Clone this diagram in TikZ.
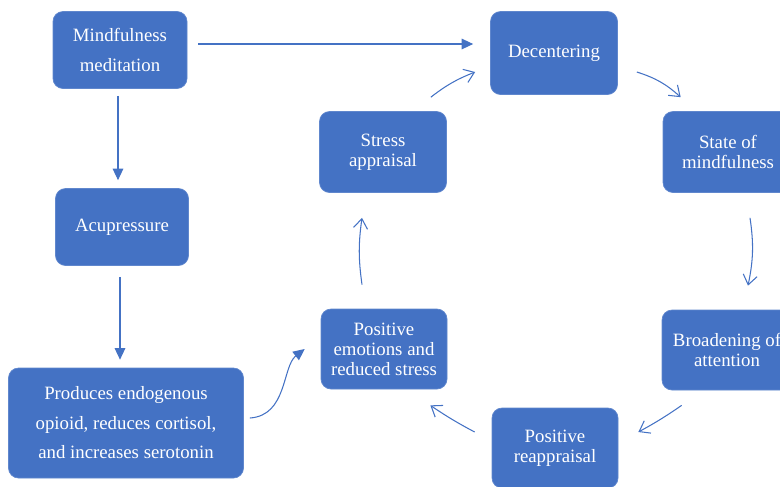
\documentclass[tikz,border=0pt]{standalone}
\usepackage{fontspec}
\setmainfont{Liberation Serif}
\usepackage{tikz}
\usetikzlibrary{arrows.meta, positioning, calc}
\definecolor{boxblue}{RGB}{68,114,196}
\tikzset{
	blk/.style={draw=boxblue!85!white, fill=boxblue, rounded corners=0.2cm, text=white, align=center, inner sep=0pt, font=\fontsize{10.7}{16.8}\selectfont},
	cyc/.style={blk, font=\fontsize{10.7}{11.4}\selectfont},
	lnk/.style={draw=boxblue, line width=0.6pt, -{Triangle[length=6.5pt,width=6pt]}},
	rnd/.style={draw=boxblue, line width=0.6pt, -{Straight Barb[length=5.5pt,width=8pt]}}
}
\begin{document}
\begin{tikzpicture}
						\clip (0,0) rectangle (15.6,-9.72);
						\node[blk, minimum width=2.68cm, minimum height=1.54cm] (mind) at (2.4,-1.0) {Mindfulness\\meditation};
						\node[blk, minimum width=2.66cm, minimum height=1.54cm] (acu) at (2.44,-4.54) {Acupressure};
						\node[blk, minimum width=4.7cm, minimum height=2.2cm] (prod) at (2.52,-8.46) {Produces endogenous\\opioid, reduces cortisol,\\and increases serotonin};
						
						\node[cyc, minimum width=2.54cm, minimum height=1.66cm] (dec) at (11.08,-1.06) {Decentering};
						\node[cyc, minimum width=2.6cm, minimum height=1.62cm] (state) at (14.56,-3.04) {State of\\mindfulness};
						\node[cyc, minimum width=2.6cm, minimum height=1.6cm] (broad) at (14.54,-7.0) {Broadening of\\attention};
						\node[cyc, minimum width=2.52cm, minimum height=1.6cm] (reap) at (11.1,-8.96) {Positive\\reappraisal};
						\node[cyc, minimum width=2.52cm, minimum height=1.6cm] (posem) at (7.68,-6.98) {Positive\\emotions and\\reduced stress};
						\node[cyc, minimum width=2.54cm, minimum height=1.62cm] (stress) at (7.66,-3.04) {Stress\\appraisal};
						
						\draw[lnk] ([xshift=0.22cm,yshift=0.12cm]mind.east) -- ([xshift=-0.34cm,yshift=0.18cm]dec.west);
						\draw[lnk] ([xshift=-0.04cm,yshift=-0.14cm]mind.south) -- ([xshift=-0.08cm,yshift=0.16cm]acu.north);
						\draw[lnk] ([xshift=-0.04cm,yshift=-0.22cm]acu.south) -- ([xshift=-0.12cm,yshift=0.16cm]prod.north);
						\draw[lnk] ([xshift=0.12cm,yshift=0.1cm]prod.east) .. controls +(0.75,0.05) and +(-0.45,-0.35) .. ([xshift=-0.32cm]posem.west);
						
						\draw[rnd] ([xshift=0.38cm,yshift=-0.38cm]dec.east) to[bend left=12] ([xshift=0.36cm,yshift=0.28cm]state.north west);
						\draw[rnd] ([xshift=0.44cm,yshift=-0.5cm]state.south) to[bend left=10] ([xshift=0.42cm,yshift=0.48cm]broad.north);
						\draw[rnd] ([xshift=0.4cm,yshift=-0.3cm]broad.south west) to[bend left=3] ([xshift=0.4cm,yshift=0.32cm]reap.east);
						\draw[rnd] ([xshift=-0.34cm,yshift=0.32cm]reap.west) to[bend left=3] ([xshift=-0.34cm,yshift=-0.32cm]posem.south east);
						\draw[rnd] ([xshift=-0.44cm,yshift=0.48cm]posem.north) to[bend left=8] ([xshift=-0.42cm,yshift=-0.5cm]stress.south);
						\draw[rnd] ([xshift=-0.32cm,yshift=0.28cm]stress.north east) to[bend left=8] ([xshift=-0.3cm,yshift=-0.38cm]dec.west);
\end{tikzpicture}
\end{document}
